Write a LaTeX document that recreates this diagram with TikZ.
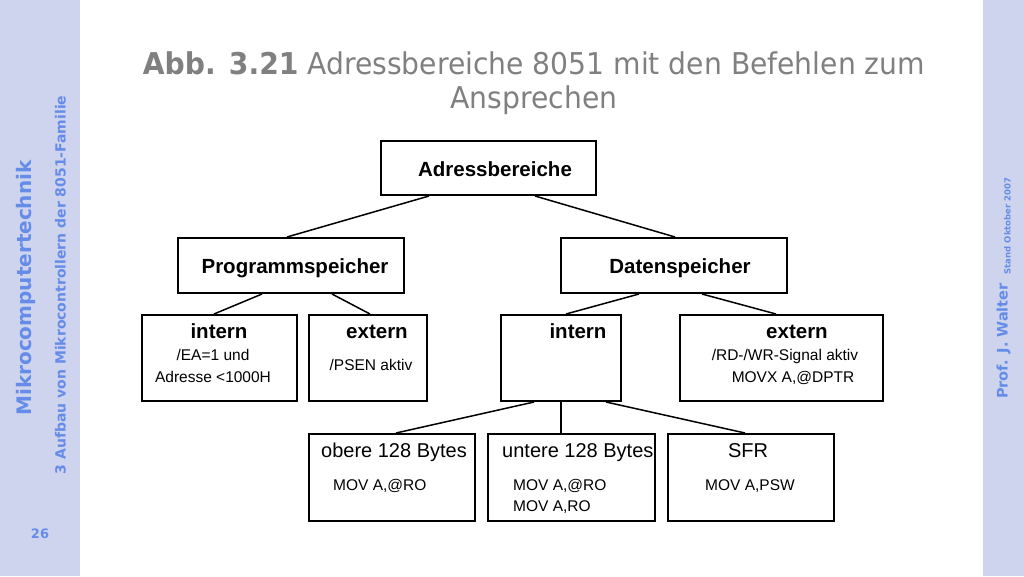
\documentclass[tikz,border=0pt]{standalone}
\usepackage{fontspec}
\setmainfont{Liberation Sans}
\newfontfamily\dvs{DejaVu Sans}
\definecolor{sidebar}{RGB}{206,212,238}
\definecolor{sidetext}{RGB}{100,140,232}
\definecolor{titlegray}{RGB}{128,128,128}
\tikzset{
  box/.style={draw=black, line width=2pt, rectangle, inner sep=0pt},
  conn/.style={draw=black, line width=1.5pt},
  head/.style={font=\bfseries\fontsize{20.5}{21}\selectfont, inner sep=0pt, anchor=mid},
  big/.style={font=\fontsize{20}{21}\selectfont, inner sep=0pt, anchor=mid},
  small/.style={font=\fontsize{15.5}{16}\selectfont, inner sep=0pt, anchor=mid},
  side/.style={text=sidetext, font=\dvs\bfseries, inner sep=0pt, rotate=90, anchor=mid},
  ttl/.style={text=titlegray, font=\dvs\fontsize{30}{30}\selectfont, inner sep=0pt, anchor=mid},
}
\begin{document}
\begin{tikzpicture}[x=1pt,y=-1pt]
\useasboundingbox (0,0) rectangle (1024,576);
\fill[white] (0,0) rectangle (1024,576);
\fill[sidebar] (0,0) rectangle (80,576);
\fill[sidebar] (983,0) rectangle (1024,576);

% sidebar texts
\node[side, font=\dvs\bfseries\fontsize{20}{20}\selectfont] (s1) at (29,288) {Mikrocomputertechnik};
\node[side, font=\dvs\bfseries\fontsize{14}{14}\selectfont] (s2) at (63,285) {3 Aufbau von Mikrocontrollern der 8051-Familie};
\node[text=sidetext, font=\dvs\bfseries\fontsize{13}{13}\selectfont, inner sep=0pt] (s3) at (40,534) {26};
\node[side, font=\dvs\bfseries\fontsize{14.5}{15}\selectfont] (s4) at (1005,341) {Prof. J. Walter};
\node[side, font=\dvs\bfseries\fontsize{8.5}{9}\selectfont] (s5) at (1008,226) {Stand Oktober 2007};

% title
\node[ttl] (t1) at (534,72)
  {\scalebox{0.94}[1]{\textbf{Abb. 3.21} Adressbereiche 8051 mit den Befehlen zum}};
\node[ttl] (t2) at (534,106)
  {\scalebox{0.94}[1]{Ansprechen}};

% boxes
\node[box, minimum width=215pt, minimum height=54pt] (ab) at (488.5,168) {};
\node[box, minimum width=226pt, minimum height=55pt] (ps) at (291,265.5) {};
\node[box, minimum width=226pt, minimum height=55pt] (ds) at (674,265.5) {};
\node[box, minimum width=155pt, minimum height=86pt] (pi) at (219.5,358) {};
\node[box, minimum width=118pt, minimum height=86pt] (pe) at (368,358) {};
\node[box, minimum width=120pt, minimum height=86pt] (di) at (561,358) {};
\node[box, minimum width=203pt, minimum height=86pt] (de) at (781.5,358) {};
\node[box, minimum width=166pt, minimum height=87pt] (ob) at (392,477.5) {};
\node[box, minimum width=167pt, minimum height=87pt] (un) at (571.5,477.5) {};
\node[box, minimum width=166pt, minimum height=87pt] (sf) at (751,477.5) {};

% connectors
\draw[conn] ([xshift=49pt]ab.south west) -- ([xshift=110pt]ps.north west);
\draw[conn] ([xshift=155pt]ab.south west) -- ([xshift=115pt]ds.north west);
\draw[conn] ([xshift=85pt]ps.south west) -- ([xshift=73pt]pi.north west);
\draw[conn] ([xshift=155pt]ps.south west) -- ([xshift=62pt]pe.north west);
\draw[conn] ([xshift=79pt]ds.south west) -- ([xshift=66pt]di.north west);
\draw[conn] ([xshift=142pt]ds.south west) -- ([xshift=97pt]de.north west);
\draw[conn] ([xshift=34pt]di.south west) -- ([xshift=88pt]ob.north west);
\draw[conn] (di.south) -- (di.south |- un.north);
\draw[conn] ([xshift=106pt]di.south west) -- ([xshift=78pt]sf.north west);

% texts
\node[head] (tab) at (495,173.5) {Adressbereiche};
\node[head] (tps) at (295,271) {Programmspeicher};
\node[head] (tds) at (680,271) {Datenspeicher};

\node[head] (tpi) at (219,335.5) {intern};
\node[small] (tpi1) at (213,357.5) {/EA=1 und};
\node[small] (tpi2) at (213,379.5) {Adresse <1000H};

\node[head] (tpe) at (377,335.5) {extern};
\node[small] (tpe1) at (371,367.5) {/PSEN aktiv};

\node[head] (tdi) at (578,335.5) {intern};

\node[head] (tde) at (797,335.5) {extern};
\node[small] (tde1) at (785,357.5) {/RD-/WR-Signal aktiv};
\node[small] (tde2) at (793,379.5) {MOVX A,@DPTR};

\node[big] (tob) at (394,455) {obere 128 Bytes};
\node[small, anchor=mid west] (tob1) at (333,487.5) {MOV A,@RO};

\node[big, anchor=mid west] (tun) at (502,455) {untere 128 Bytes};
\node[small, anchor=mid west] (tun1) at (513,487.5) {MOV A,@RO};
\node[small, anchor=mid west] (tun2) at (513,508.5) {MOV A,RO};

\node[big] (tsf) at (748,455) {SFR};
\node[small] (tsf1) at (750,487.5) {MOV A,PSW};
\end{tikzpicture}
\end{document}
